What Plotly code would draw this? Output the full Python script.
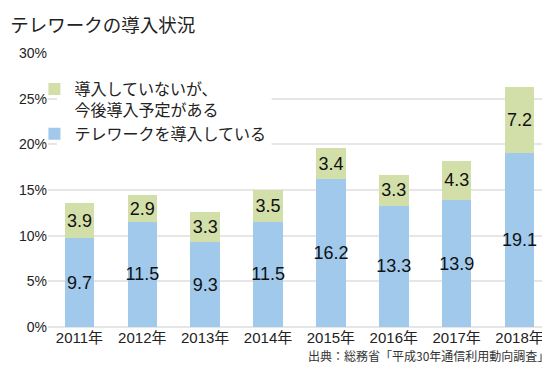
import plotly.graph_objects as go

years = ["2011年", "2012年", "2013年", "2014年", "2015年", "2016年", "2017年", "2018年"]
introduced = [9.7, 11.5, 9.3, 11.5, 16.2, 13.3, 13.9, 19.1]
planned = [3.9, 2.9, 3.3, 3.5, 3.4, 3.3, 4.3, 7.2]
yticks = [0, 5, 10, 15, 20, 25, 30]
ytick_labels = [f"{v}%" for v in yticks]

name_intro = "テレワークを導入している"
name_plan = "導入していないが、<br>今後導入予定がある"

blue = "#a0c9ec"
green = "#d3dfa9"
font_main = "Liberation Sans, Arial, Noto Sans CJK JP, sans-serif"
font_jp = "Noto Sans CJK JP, sans-serif"

fig = go.Figure()
fig.add_trace(go.Bar(
    x=years, y=introduced, name=name_intro, marker_color=blue, marker_line_width=0,
    legendrank=2,
    text=[f"{v:.1f}" for v in introduced], textposition="inside", insidetextanchor="middle",
    textangle=0, textfont=dict(size=18, color="#111111", family=font_main),
))
fig.add_trace(go.Bar(
    x=years, y=planned, name=name_plan, marker_color=green, marker_line_width=0,
    legendrank=1,
    text=[f"{v:.1f}" for v in planned], textposition="inside", insidetextanchor="middle",
    textangle=0, textfont=dict(size=18, color="#111111", family=font_main),
))

fig.update_layout(
    width=550, height=375,
    margin=dict(l=39.5, r=6.5, t=44.5, b=55.5),
    barmode="stack", bargap=0.53,
    plot_bgcolor="white", paper_bgcolor="white",
    font=dict(family=font_main, color="#222222"),
    uniformtext=dict(minsize=18, mode="show"),
    showlegend=True,
    title=dict(text="テレワークの導入状況", xref="container", yref="container",
               x=0.004, y=0.953, xanchor="left", yanchor="middle",
               font=dict(size=18.5, color="#222222", family=font_jp)),
    legend=dict(
        x=-0.027, y=0.93, xanchor="left", yanchor="top",
        traceorder="normal", bgcolor="rgba(0,0,0,0)", valign="top",
        font=dict(size=16, color="#222222"), tracegroupgap=15,
        itemwidth=30,
    ),
    xaxis=dict(
        showgrid=False, showline=False, ticks="",
        tickfont=dict(size=15, color="#222222"),
    ),
    yaxis=dict(
        range=[0, 30], tickvals=yticks, ticktext=ytick_labels,
        showgrid=True, gridcolor="#e6e6e6", gridwidth=1.5,
        zeroline=True, zerolinecolor="#e6e6e6", zerolinewidth=1.5,
        tickfont=dict(size=14, color="#222222"), ticks="",
    ),
    shapes=[
        dict(type="rect", xref="paper", yref="paper",
             x0=9 / 504, x1=224 / 504, y0=(275 - 108) / 275, y1=(275 - 35) / 275,
             fillcolor="white", line_width=0, layer="above"),
    ],
    annotations=[
        dict(text="出典：総務省「平成30年通信利用動向調査」", xref="paper", yref="paper",
             x=1.0, y=0, xanchor="right", yanchor="top", yshift=-18, showarrow=False,
             font=dict(size=12, color="#333333", family=font_jp)),
    ],
)

fig.write_html("out.html")
